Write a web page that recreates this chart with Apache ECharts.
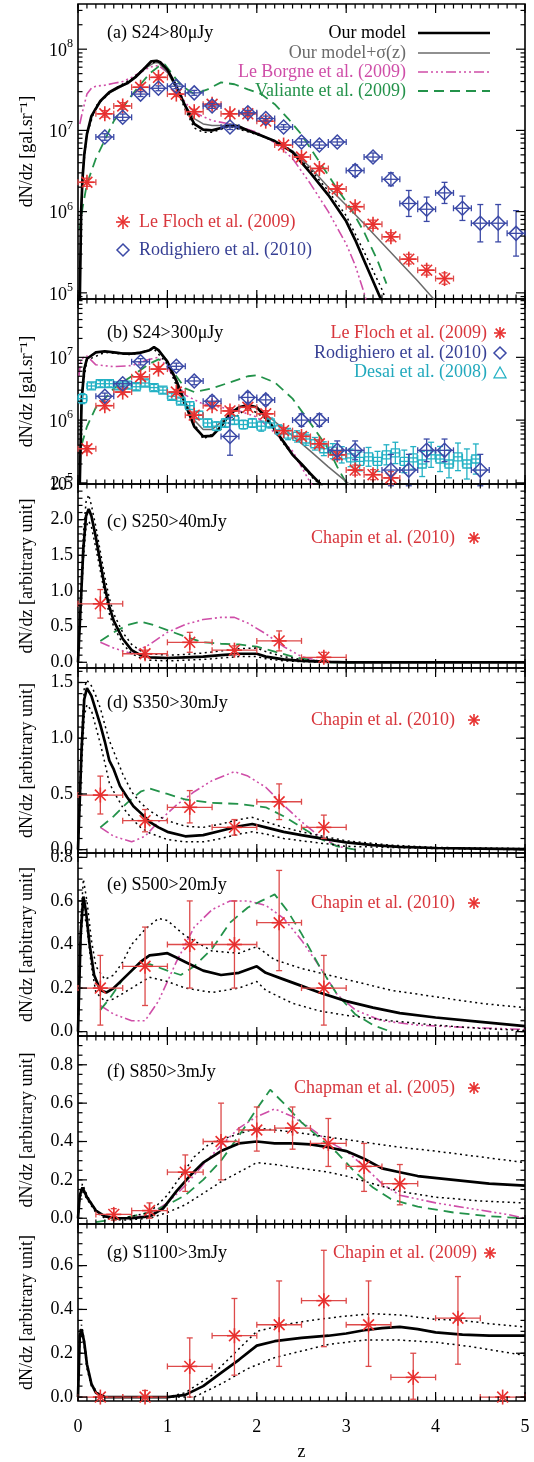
<!DOCTYPE html>
<html><head><meta charset="utf-8">
<script src="https://cdn.jsdelivr.net/npm/echarts@6/dist/echarts.min.js"></script>
<style>html,body{margin:0;padding:0;background:#fff}#c{width:534px;height:1462px}</style>
</head><body><div id="c"></div>
<script>
// ---------------- DATA ----------------
const Z_LABELS = [0,1,2,3,4,5];
// (a) S24>80uJy
const a_model_z = [0.02,0.035,0.05,0.07,0.1,0.15,0.25,0.35,0.45,0.55,0.65,0.75,0.82,0.88,0.92,1.0,1.1,1.2,1.3,1.4,1.5,1.6,1.7,1.8,1.9,2.0,2.2,2.4,2.6,2.8,3.0,3.1,3.2,3.3,3.4];
const a_model = [8e4,1.0e6,2.5e6,5.0e6,9.0e6,1.5e7,2.3e7,2.95e7,3.4e7,3.8e7,4.6e7,5.9e7,7.1e7,7.2e7,6.9e7,5.6e7,3.5e7,2.0e7,1.2e7,1.02e7,1.0e7,1.07e7,1.17e7,1.12e7,1.0e7,9.1e6,7.4e6,5.4e6,3.0e6,1.6e6,7.6e5,4.5e5,2.5e5,1.4e5,7.8e4];
const a_sig_z = [0.02,0.04,0.07,0.1,0.15,0.25,0.35,0.45,0.55,0.65,0.75,0.85,0.9,1.0,1.1,1.2,1.3,1.4,1.5,1.7,2.0,2.2,2.4,2.6,2.8,3.0,3.2,3.4,3.6,3.8,4.0];
const a_sig = [1e5,1.4e6,5.2e6,8.9e6,1.48e7,2.3e7,2.9e7,3.3e7,3.8e7,4.6e7,5.8e7,6.8e7,6.8e7,5.2e7,3.3e7,2.0e7,1.4e7,1.2e7,1.15e7,1.15e7,9.1e6,7.4e6,5.6e6,3.5e6,2.0e6,1.2e6,7.1e5,4.1e5,2.4e5,1.4e5,7.9e4];
const a_dot_z = [0.05,0.1,0.2,0.4,0.6,0.8,0.9,1.0,1.1,1.2,1.3,1.4,1.5,1.7,2.0,2.3,2.6,2.8,3.0,3.2,3.4,3.45];
const a_dot = [2.8e6,8.9e6,2.0e7,3.2e7,4.3e7,6.6e7,7.1e7,5.5e7,3.3e7,1.8e7,1.07e7,9.5e6,9.5e6,1.12e7,8.9e6,6.8e6,3.3e6,1.8e6,8.9e5,3.2e5,1.1e5,7.9e4];
const a_lb_z = [0.02,0.05,0.1,0.15,0.2,0.3,0.4,0.5,0.6,0.7,0.8,0.9,1.0,1.1,1.2,1.3,1.5,1.7,2.0,2.2,2.4,2.6,2.8,3.0,3.1,3.2,3.25];
const a_lb = [1.2e7,1.7e7,2.8e7,3.3e7,3.5e7,3.6e7,3.8e7,4.0e7,4.5e7,5.2e7,6.0e7,6.3e7,5.2e7,3.5e7,2.2e7,1.66e7,1.32e7,1.2e7,9.5e6,7.1e6,4.5e6,2.2e6,1.0e6,4.0e5,2.2e5,1.0e5,6.3e4];
const a_val_z = [0.02,0.05,0.1,0.2,0.3,0.4,0.5,0.6,0.7,0.8,0.9,0.97,1.05,1.15,1.3,1.45,1.6,1.75,1.9,2.05,2.2,2.35,2.5,2.6,2.75,2.9,3.05,3.2,3.35,3.45];
const a_val = [6e5,1.1e6,2.2e6,4.5e6,7.6e6,1.3e7,1.9e7,2.7e7,3.7e7,5.0e7,6.1e7,6.5e7,5.0e7,3.6e7,2.8e7,3.2e7,3.9e7,3.7e7,3.2e7,2.8e7,2.1e7,1.4e7,8.9e6,6.0e6,3.4e6,1.9e6,1.1e6,5.6e5,2.5e5,1.3e5];
const a_lf_z = [0.1,0.3,0.5,0.7,0.9,1.1,1.3,1.5,1.7,1.9,2.1,2.3,2.5,2.7,2.9,3.1,3.3,3.5,3.7,3.9,4.1];
const a_lf = [2.3e6,1.6e7,2.0e7,3.4e7,4.5e7,2.8e7,1.7e7,2.1e7,1.6e7,1.6e7,1.3e7,6.6e6,4.7e6,3.4e6,1.9e6,1.15e6,7.0e5,4.9e5,2.6e5,1.9e5,1.5e5];
const a_lf_err = [0.05,0.04,0.04,0.03,0.03,0.03,0.03,0.03,0.03,0.03,0.03,0.03,0.03,0.03,0.04,0.04,0.05,0.05,0.06,0.06,0.07];
const a_ro_z = [0.3,0.5,0.7,0.9,1.1,1.3,1.5,1.7,1.9,2.1,2.3,2.5,2.7,2.9,3.1,3.3,3.5,3.7,3.9,4.1,4.3,4.5,4.7,4.9];
const a_ro = [8.3e6,1.45e7,2.8e7,3.3e7,3.5e7,2.9e7,2.0e7,1.1e7,1.65e7,1.4e7,1.1e7,7.2e6,6.6e6,7.2e6,3.2e6,4.7e6,2.5e6,1.26e6,1.07e6,1.7e6,1.1e6,7.2e5,7.2e5,5.4e5];
const a_ro_err = [0.04,0.04,0.03,0.03,0.03,0.03,0.03,0.03,0.03,0.03,0.03,0.04,0.04,0.04,0.07,0.05,0.08,0.16,0.15,0.13,0.15,0.23,0.23,0.28];
// (b) S24>300uJy
const b_model_z = [0.02,0.04,0.07,0.1,0.2,0.3,0.4,0.5,0.6,0.7,0.8,0.85,0.9,1.0,1.1,1.2,1.3,1.4,1.5,1.6,1.7,1.8,1.9,2.0,2.1,2.2,2.3,2.4,2.5,2.6,2.7,2.75];
const b_model = [1e5,2.0e6,6.5e6,9.5e6,1.2e7,1.25e7,1.2e7,1.15e7,1.15e7,1.18e7,1.3e7,1.45e7,1.3e7,8.5e6,4.2e6,1.8e6,7.9e5,5.5e5,5.6e5,7.9e5,1.26e6,1.6e6,1.74e6,1.6e6,1.12e6,7.1e5,4.5e5,2.8e5,2.0e5,1.4e5,1.0e5,8e4];
const b_sig_z = [0.02,0.04,0.07,0.1,0.2,0.4,0.6,0.8,0.85,0.9,1.0,1.1,1.2,1.3,1.4,1.5,1.6,1.8,1.9,2.0,2.2,2.4,2.6,2.8,3.0,3.1];
const b_sig = [1e5,2.0e6,6.5e6,9.5e6,1.2e7,1.2e7,1.15e7,1.3e7,1.42e7,1.3e7,8.9e6,4.5e6,2.0e6,1.0e6,7.1e5,7.1e5,9.3e5,1.58e6,1.7e6,1.58e6,9.5e5,5.6e5,3.2e5,1.8e5,1.05e5,7.9e4];
const b_dot_z = [0.05,0.1,0.3,0.6,0.85,1.0,1.2,1.4,1.6,1.9,2.1,2.3,2.5,2.65,2.8];
const b_dot = [3.2e6,9.0e6,1.2e7,1.1e7,1.35e7,7.9e6,1.6e6,5.0e5,7.1e5,1.6e6,1.05e6,4.2e5,1.9e5,1.1e5,7.9e4];
const b_lb_z = [0.01,0.03,0.06,0.1,0.2,0.4,0.6,0.8,0.9,1.0,1.1,1.2,1.4,1.6,1.8,2.0,2.2,2.4,2.5,2.6,2.65];
const b_lb = [5e6,8.5e6,1.0e7,1.05e7,7.6e6,7.1e6,7.4e6,9.3e6,1.0e7,7.1e6,4.0e6,2.5e6,1.8e6,1.6e6,1.4e6,1.12e6,6.3e5,3.2e5,1.8e5,1.0e5,8e4];
const b_val_z = [0.04,0.1,0.2,0.3,0.4,0.5,0.6,0.7,0.8,0.9,1.0,1.1,1.2,1.3,1.5,1.7,1.9,2.0,2.2,2.4,2.6,2.8,2.9,3.0];
const b_val = [4.0e5,7.9e5,1.6e6,2.2e6,3.2e6,4.0e6,5.0e6,6.3e6,7.9e6,9.3e6,7.9e6,5.0e6,3.2e6,2.8e6,3.2e6,4.0e6,5.0e6,5.2e6,4.0e6,2.2e6,8.9e5,3.5e5,1.8e5,1.0e5];
const b_lf_z = [0.1,0.3,0.5,0.7,0.9,1.1,1.3,1.5,1.7,1.9,2.1,2.3,2.5,2.7,2.9,3.1,3.3,3.5];
const b_lf = [3.5e5,1.7e6,2.8e6,4.9e6,6.5e6,2.8e6,1.2e6,1.7e6,1.4e6,1.6e6,1.26e6,6.8e5,5.5e5,4.2e5,2.8e5,1.6e5,1.35e5,1.2e5];
const b_lf_err = [0.05,0.05,0.04,0.04,0.04,0.04,0.05,0.05,0.05,0.05,0.05,0.05,0.05,0.06,0.06,0.08,0.08,0.1];
const b_ro_z = [0.3,0.5,0.7,1.1,1.3,1.5,1.7,1.9,2.1,2.5,2.7,2.9,3.1,3.5,3.7,3.9,4.1,4.5];
const b_ro = [2.4e6,3.8e6,8.5e6,7.2e6,4.2e6,2.0e6,5.5e5,2.3e6,2.1e6,1.0e6,1.0e6,3.3e5,3.3e5,1.6e5,1.6e5,3.3e5,3.3e5,1.6e5];
const b_ro_err = [0.05,0.05,0.05,0.05,0.06,0.08,0.3,0.08,0.08,0.1,0.1,0.15,0.15,0.25,0.25,0.18,0.18,0.25];
const b_de_z = [0.05,0.15,0.25,0.35,0.45,0.55,0.65,0.75,0.85,0.95,1.05,1.15,1.25,1.35,1.45,1.55,1.65,1.75,1.85,1.95,2.05,2.15,2.25,2.35,2.45,2.55,2.65,2.75,2.85,2.95,3.05,3.15,3.25,3.35,3.45,3.55,3.65,3.75,3.85,3.95,4.05,4.15,4.25,4.35,4.45];
const b_de = [2.2e6,3.5e6,3.8e6,3.8e6,3.5e6,3.6e6,3.4e6,3.9e6,3.3e6,3.0e6,2.4e6,2.0e6,1.7e6,1.2e6,9e5,8e5,9e5,1.0e6,8.5e5,9e5,8e5,9e5,7e5,6e5,5.5e5,5e5,4.2e5,3.5e5,3.2e5,2.8e5,2.5e5,2.2e5,2.6e5,2.2e5,2.8e5,3.0e5,2.2e5,2.5e5,2.0e5,2.8e5,2.4e5,2.0e5,2.6e5,2.0e5,2.4e5];
const b_de_err = [0.08,0.05,0.05,0.05,0.05,0.05,0.05,0.05,0.05,0.05,0.05,0.05,0.06,0.06,0.06,0.07,0.07,0.07,0.07,0.07,0.08,0.08,0.08,0.09,0.09,0.1,0.1,0.11,0.12,0.13,0.14,0.15,0.15,0.16,0.16,0.17,0.18,0.18,0.2,0.2,0.2,0.22,0.22,0.24,0.24];
// (c) S250>40mJy
const c_model_z = [0,0.03,0.06,0.09,0.12,0.15,0.2,0.25,0.3,0.35,0.4,0.5,0.6,0.7,0.8,1.0,1.2,1.4,1.6,1.8,2.0,2.1,2.3,2.5,2.8,3.0,5.0];
const c_model = [0,0.8,1.6,2.05,2.15,2.05,1.75,1.4,1.05,0.78,0.58,0.33,0.17,0.1,0.07,0.06,0.07,0.08,0.1,0.12,0.12,0.08,0.04,0.02,0.005,0,0];
const c_up_z = [0,0.03,0.06,0.09,0.12,0.15,0.2,0.25,0.3,0.35,0.4,0.5,0.6,0.7,0.8,1.0,1.2,1.4,1.6,1.8,2.0,2.1,2.3,2.5,2.8,3.0,3.5];
const c_up = [0,0.9,1.8,2.25,2.35,2.2,1.9,1.55,1.2,0.9,0.68,0.42,0.25,0.16,0.12,0.1,0.11,0.13,0.16,0.19,0.2,0.15,0.08,0.04,0.01,0,0];
const c_lo_z = [0,0.03,0.06,0.09,0.12,0.15,0.2,0.25,0.3,0.35,0.4,0.5,0.6,0.7,0.8,1.0,1.2,1.4,1.6,1.8,2.0,2.1,2.3,2.5,2.8,3.0];
const c_lo = [0,0.7,1.45,1.9,1.98,1.9,1.6,1.28,0.95,0.68,0.5,0.26,0.12,0.06,0.03,0.02,0.03,0.04,0.06,0.08,0.08,0.05,0.02,0.01,0,0];
const c_lb_z = [0.25,0.4,0.6,0.8,1.0,1.2,1.4,1.6,1.75,1.9,2.1,2.3,2.5,2.7,2.9,3.2];
const c_lb = [0.28,0.2,0.12,0.25,0.42,0.53,0.6,0.63,0.63,0.55,0.4,0.22,0.08,0.02,0,0];
const c_val_z = [0.25,0.4,0.55,0.7,0.85,1.0,1.2,1.4,1.6,1.8,2.0,2.2,2.4,2.6,2.8,3.2];
const c_val = [0.3,0.42,0.52,0.57,0.52,0.45,0.36,0.28,0.26,0.25,0.22,0.15,0.08,0.03,0,0];
const c_ch_z = [0.25,0.75,1.25,1.75,2.25,2.75];
const c_ch = [0.82,0.12,0.28,0.17,0.3,0.07];
const c_ch_lo = [0.62,0.07,0.14,0.11,0.16,0.0];
const c_ch_hi = [1.02,0.17,0.42,0.23,0.44,0.14];
// (d) S350>30mJy
const d_model_z = [0,0.04,0.07,0.1,0.15,0.2,0.25,0.3,0.35,0.4,0.47,0.55,0.62,0.7,0.8,0.9,1.0,1.2,1.4,1.6,1.8,1.95,2.1,2.3,2.5,2.8,3.0,3.3,3.6,4.0,4.5,5.0];
const d_model = [0,0.9,1.35,1.45,1.38,1.25,1.12,0.97,0.8,0.72,0.57,0.47,0.39,0.33,0.25,0.2,0.16,0.12,0.13,0.17,0.21,0.23,0.2,0.16,0.13,0.09,0.065,0.04,0.025,0.015,0.01,0.005];
const d_up_z = [0,0.04,0.07,0.1,0.15,0.2,0.25,0.3,0.35,0.4,0.5,0.6,0.7,0.8,0.9,1.0,1.2,1.4,1.6,1.8,1.95,2.1,2.3,2.5,2.8,3.0,3.5,4.0,5.0];
const d_up = [0,1.0,1.45,1.52,1.47,1.38,1.27,1.12,0.98,0.88,0.68,0.52,0.42,0.35,0.3,0.26,0.21,0.2,0.23,0.27,0.29,0.25,0.2,0.16,0.11,0.08,0.04,0.02,0.01];
const d_lo_z = [0,0.04,0.07,0.1,0.15,0.2,0.25,0.3,0.35,0.4,0.5,0.6,0.7,0.8,1.0,1.2,1.4,1.6,1.8,1.95,2.1,2.3,2.5,2.8,3.0,3.5,4.0,5.0];
const d_lo = [0,0.75,1.2,1.3,1.25,1.1,0.95,0.78,0.6,0.52,0.38,0.28,0.2,0.15,0.09,0.07,0.07,0.1,0.14,0.16,0.14,0.1,0.08,0.05,0.03,0.02,0.01,0];
const d_lb_z = [0.25,0.4,0.6,0.75,0.9,1.1,1.3,1.5,1.75,1.9,2.1,2.3,2.5,2.7,2.9,3.1];
const d_lb = [0.2,0.12,0.07,0.12,0.25,0.4,0.52,0.62,0.7,0.66,0.56,0.4,0.25,0.12,0.03,0];
const d_val_z = [0.25,0.4,0.55,0.7,0.8,1.0,1.2,1.5,1.8,2.1,2.3,2.5,2.7,2.9,3.1];
const d_val = [0.2,0.3,0.42,0.52,0.55,0.5,0.45,0.42,0.41,0.38,0.3,0.2,0.1,0.03,0];
const d_ch_z = [0.25,0.75,1.25,1.75,2.25,2.75];
const d_ch = [0.49,0.26,0.38,0.2,0.43,0.2];
const d_ch_lo = [0.32,0.16,0.24,0.13,0.27,0.1];
const d_ch_hi = [0.66,0.36,0.53,0.27,0.59,0.31];
// (e) S500>20mJy
const e_model_z = [0,0.03,0.06,0.09,0.13,0.18,0.25,0.32,0.4,0.5,0.6,0.7,0.8,0.9,1.0,1.1,1.2,1.4,1.6,1.8,2.0,2.1,2.3,2.5,2.7,3.0,3.3,3.6,4.0,4.5,5.0];
const e_model = [0,0.45,0.62,0.55,0.4,0.26,0.19,0.18,0.2,0.24,0.28,0.32,0.35,0.355,0.36,0.34,0.32,0.28,0.26,0.27,0.3,0.27,0.24,0.21,0.18,0.14,0.11,0.085,0.065,0.045,0.025];
const e_up_z = [0,0.03,0.06,0.1,0.15,0.2,0.3,0.4,0.5,0.6,0.75,0.9,1.0,1.2,1.5,1.8,2.0,2.2,2.5,3.0,3.5,4.0,4.5,5.0];
const e_up = [0,0.5,0.7,0.6,0.42,0.3,0.24,0.26,0.32,0.4,0.47,0.52,0.51,0.44,0.37,0.36,0.39,0.33,0.29,0.24,0.19,0.16,0.13,0.11];
const e_lo_z = [0,0.03,0.06,0.1,0.15,0.2,0.3,0.4,0.6,0.8,1.0,1.2,1.5,1.8,2.0,2.1,2.4,2.7,3.0,3.5,4.0,4.5,5.0];
const e_lo = [0,0.42,0.56,0.48,0.3,0.18,0.14,0.15,0.2,0.25,0.23,0.2,0.18,0.2,0.23,0.19,0.13,0.095,0.075,0.05,0.03,0.015,0.005];
const e_lb_z = [0.25,0.4,0.6,0.75,0.9,1.1,1.3,1.5,1.7,1.9,2.1,2.3,2.5,2.7,2.9,3.1,3.4,3.8,4.3,5.0];
const e_lb = [0.12,0.08,0.05,0.05,0.14,0.32,0.48,0.56,0.6,0.6,0.58,0.52,0.42,0.3,0.17,0.1,0.05,0.03,0.02,0.01];
const e_val_z = [0.25,0.35,0.5,0.65,0.8,1.0,1.15,1.3,1.5,1.7,1.9,2.05,2.2,2.35,2.5,2.7,2.9,3.1,3.3,3.5];
const e_val = [0.1,0.15,0.24,0.3,0.31,0.28,0.26,0.3,0.38,0.5,0.57,0.6,0.63,0.55,0.45,0.3,0.17,0.08,0.03,0];
const e_ch_z = [0.25,0.75,1.25,1.75,2.25,2.75];
const e_ch = [0.2,0.3,0.4,0.4,0.5,0.2];
const e_ch_lo = [0.03,0.12,0.2,0.2,0.28,0.03];
const e_ch_hi = [0.35,0.48,0.6,0.6,0.74,0.35];
// (f) S850>3mJy
const f_model_z = [0,0.02,0.05,0.1,0.2,0.3,0.45,0.6,0.8,0.95,1.1,1.25,1.4,1.6,1.8,2.0,2.2,2.4,2.6,2.8,3.0,3.2,3.4,3.6,3.8,4.2,4.6,5.0];
const f_model = [0,0.12,0.16,0.11,0.04,0.01,0,0,0.01,0.05,0.14,0.22,0.29,0.35,0.39,0.4,0.39,0.39,0.385,0.37,0.35,0.31,0.26,0.24,0.22,0.2,0.18,0.17];
const f_up_z = [0,0.02,0.05,0.1,0.2,0.3,0.5,0.8,1.0,1.15,1.3,1.45,1.6,1.8,2.0,2.2,2.4,2.7,3.0,3.3,3.6,4.0,4.5,5.0];
const f_up = [0,0.13,0.18,0.12,0.04,0.01,0,0.03,0.12,0.22,0.32,0.38,0.41,0.44,0.47,0.46,0.45,0.43,0.41,0.39,0.37,0.35,0.32,0.29];
const f_lo_z = [0,0.02,0.05,0.1,0.2,0.3,0.5,0.8,1.0,1.2,1.4,1.6,1.8,2.0,2.2,2.5,2.8,3.0,3.3,3.6,4.0,4.5,5.0];
const f_lo = [0,0.1,0.14,0.1,0.03,0,-0.01,0,0.03,0.07,0.13,0.19,0.24,0.29,0.28,0.26,0.24,0.22,0.18,0.14,0.11,0.09,0.08];
const f_lb_z = [0.6,0.8,1.0,1.2,1.4,1.6,1.8,2.0,2.2,2.4,2.6,2.8,3.0,3.2,3.4,3.6,3.8,4.0,4.4,4.8,5.0];
const f_lb = [0,0.02,0.08,0.17,0.28,0.38,0.47,0.53,0.57,0.53,0.47,0.4,0.35,0.27,0.18,0.12,0.1,0.08,0.05,0.02,0];
const f_val_z = [0.2,0.5,0.8,1.0,1.2,1.4,1.6,1.8,2.0,2.15,2.3,2.5,2.7,2.9,3.1,3.3,3.5,3.8,4.2,4.6,5.0];
const f_val = [-0.02,0,0.03,0.07,0.12,0.2,0.3,0.43,0.57,0.67,0.6,0.5,0.42,0.34,0.24,0.16,0.1,0.06,0.03,0.01,0];
const f_cm_z = [0.4,0.8,1.2,1.6,2.0,2.4,2.8,3.2,3.6];
const f_cm = [0.02,0.04,0.24,0.4,0.46,0.47,0.39,0.27,0.18];
const f_cm_lo = [-0.01,0.0,0.14,0.2,0.35,0.36,0.27,0.14,0.07];
const f_cm_hi = [0.05,0.08,0.33,0.6,0.58,0.58,0.52,0.39,0.28];
// (g) S1100>3mJy
const g_model_z = [0,0.02,0.04,0.07,0.1,0.15,0.2,0.3,1.0,1.2,1.4,1.6,1.8,2.0,2.2,2.5,2.8,3.0,3.2,3.4,3.6,3.8,4.0,4.3,4.6,5.0];
const g_model = [0,0.28,0.31,0.25,0.15,0.06,0.02,0,0,0.01,0.05,0.11,0.17,0.235,0.255,0.27,0.28,0.29,0.305,0.315,0.32,0.31,0.295,0.285,0.28,0.28];
const g_up_z = [0,0.02,0.04,0.07,0.1,0.15,0.25,1.0,1.2,1.5,1.8,2.0,2.3,2.6,3.0,3.3,3.6,4.0,4.3,4.6,5.0];
const g_up = [0,0.3,0.33,0.26,0.16,0.06,0,0,0.02,0.1,0.22,0.3,0.33,0.35,0.37,0.38,0.375,0.355,0.35,0.335,0.32];
const g_lo_z = [0,0.02,0.04,0.07,0.1,0.15,0.25,1.3,1.6,1.9,2.2,2.5,2.8,3.2,3.6,4.0,4.4,4.7,5.0];
const g_lo = [0,0.26,0.29,0.23,0.13,0.05,0,0,0.06,0.13,0.18,0.21,0.24,0.26,0.26,0.25,0.23,0.21,0.19];
const g_ch_z = [0.25,0.75,1.25,1.75,2.25,2.75,3.25,3.75,4.25,4.75];
const g_ch = [0,0,0.14,0.28,0.33,0.44,0.33,0.09,0.36,0];
const g_ch_lo = [0,0,0,0.1,0.14,0.23,0.14,-0.01,0.15,0];
const g_ch_hi = [0,0.03,0.27,0.45,0.53,0.67,0.53,0.2,0.55,0];
// tick labels
const Y_LABELS = [[1e5,1e6,1e7,1e8],[1e5,1e6,1e7],[0,0.5,1,1.5,2,2.5],[0,0.5,1,1.5],[0,0.2,0.4,0.6,0.8],[0,0.2,0.4,0.6,0.8],[0,0.2,0.4,0.6]];
const PANEL_TITLES = ['(a) S24>80\u03bcJy','(b) S24>300\u03bcJy','(c) S250>40mJy','(d) S350>30mJy','(e) S500>20mJy','(f) S850>3mJy','(g) S1100>3mJy'];

// ---------------- LAYOUT / STYLE ----------------
const FONT = '"Liberation Serif","Times New Roman",serif';
const RED='#e8302f', RED_BAR='#dd4a4a', RED_TXT='#d8363c', BLUE='#3b49a6', BLUE_TXT='#363f94', CYAN='#23b1c4', CYAN_TXT='#22a9bd';
const MAG='#cf4ea8', GREEN='#23924a', GRAY='#6b6b6b';
const GRID_TOP=[4,299,484,668,853,1036,1224], GRID_H=[295,185,184,185,183,188,179];
const Y_MIN=[8.4e4,9.6e4,-0.08,-0.03,-0.02,-0.03,-0.018], Y_MAX=[3.6e8,8.5e7,2.5,1.63,0.82,0.95,0.79];
const IS_LOG=[true,true,false,false,false,false,false];
const Y_NAME=['dN/dz [gal.sr\u207b\u00b9]','dN/dz [gal.sr\u207b\u00b9]','dN/dz [arbitrary unit]','dN/dz [arbitrary unit]','dN/dz [arbitrary unit]','dN/dz [arbitrary unit]','dN/dz [arbitrary unit]'];
const LEFT=78, RIGHT=9;

function steps(a,b,s){const r=[];for(let v=a;v<=b+1e-9;v+=s)r.push(+v.toFixed(4));return r;}
const X_MAJOR=[0,1,2,3,4,5], X_MINOR=steps(0,5,0.1);
function logMinor(lo,hi){const r=[];for(let n=4;n<=8;n++)for(let k=2;k<=9;k++){const v=k*Math.pow(10,n);if(v>lo&&v<hi)r.push(v);}return r;}
const Y_MINOR=[logMinor(Y_MIN[0],Y_MAX[0]),logMinor(Y_MIN[1],Y_MAX[1]),steps(0,2.5,0.1),steps(0,1.6,0.1),steps(0,0.8,0.05),steps(0,0.95,0.05),steps(0,0.75,0.05)];
const Y_REF=[1e6,1e6,0,0,0,0,0];

function lineS(gi,zs,ys,color,width,type){
  return {type:'line',xAxisIndex:gi,yAxisIndex:gi,data:zs.map((z,i)=>[z,ys[i]]),showSymbol:false,symbol:'none',
    silent:true,clip:true,z:3,lineStyle:{color:color,width:width,type:type||'solid'},animation:false};
}
function symShapes(sym,x,y,r,color){
  const st={stroke:color,lineWidth:1.6,fill:null};
  if(sym==='ast'){const d=r*0.72;return [
    {type:'line',shape:{x1:x-r,y1:y,x2:x+r,y2:y},style:st},
    {type:'line',shape:{x1:x,y1:y-r,x2:x,y2:y+r},style:st},
    {type:'line',shape:{x1:x-d,y1:y-d,x2:x+d,y2:y+d},style:st},
    {type:'line',shape:{x1:x-d,y1:y+d,x2:x+d,y2:y-d},style:st}];}
  if(sym==='dia'){return [{type:'polygon',shape:{points:[[x,y-r],[x+r,y],[x,y+r],[x-r,y]]},style:{stroke:color,lineWidth:1.5,fill:'rgba(0,0,0,0)'}}];}
  if(sym==='sq'){return [{type:'rect',shape:{x:x-r,y:y-r,width:2*r,height:2*r},style:{stroke:color,lineWidth:1.3,fill:'rgba(0,0,0,0)'}}];}
  if(sym==='tri'){return [{type:'polygon',shape:{points:[[x,y-r],[x+r,y+r*0.8],[x-r,y+r*0.8]]},style:{stroke:color,lineWidth:1.3,fill:'rgba(0,0,0,0)'}}];}
  return [];
}
function errS(gi,rows,sym,r,color,barColor,zz){
  return {type:'custom',xAxisIndex:gi,yAxisIndex:gi,silent:true,clip:false,z:zz||5,data:rows,animation:false,
    renderItem:function(params,api){
      const c=api.coord([api.value(0),api.value(1)]);
      const xl=api.coord([api.value(2),api.value(1)])[0], xh=api.coord([api.value(3),api.value(1)])[0];
      const yl=api.coord([api.value(0),api.value(4)])[1], yh=api.coord([api.value(0),api.value(5)])[1];
      const st={stroke:barColor,lineWidth:1.3};
      const ch=[
        {type:'line',shape:{x1:xl,y1:c[1],x2:xh,y2:c[1]},style:st},
        {type:'line',shape:{x1:xl,y1:c[1]-3,x2:xl,y2:c[1]+3},style:st},
        {type:'line',shape:{x1:xh,y1:c[1]-3,x2:xh,y2:c[1]+3},style:st}];
      if(Math.abs(yl-yh)>1){
        ch.push({type:'line',shape:{x1:c[0],y1:yl,x2:c[0],y2:yh},style:st});
        ch.push({type:'line',shape:{x1:c[0]-3,y1:yl,x2:c[0]+3,y2:yl},style:st});
        ch.push({type:'line',shape:{x1:c[0]-3,y1:yh,x2:c[0]+3,y2:yh},style:st});
      }
      return {type:'group',children:ch.concat(symShapes(sym,c[0],c[1],r,color))};
    }};
}
function rowsLin(zs,ys,lo,hi,dz){return zs.map((z,i)=>[z,ys[i],z-dz,z+dz,lo[i],hi[i]]);}
function rowsLog(zs,ys,e,dz){return zs.map((z,i)=>[z,ys[i],z-dz,z+dz,ys[i]/Math.pow(10,e[i]),ys[i]*Math.pow(10,e[i])]);}
function tickS(gi){
  return {type:'custom',xAxisIndex:gi,yAxisIndex:gi,silent:true,clip:false,z:10,data:[[2.5,Y_REF[gi]]],animation:false,
    renderItem:function(params,api){
      const cs=params.coordSys, ch=[];
      const top=cs.y,bot=cs.y+cs.height,lf=cs.x,rt=cs.x+cs.width;
      const st={stroke:'#000',lineWidth:1.2};
      const add=(a,b,c,d)=>ch.push({type:'line',shape:{x1:a,y1:b,x2:c,y2:d},style:st});
      X_MAJOR.forEach(v=>{const x=api.coord([v,Y_REF[gi]])[0];add(x,bot,x,bot-9);add(x,top,x,top+9);});
      X_MINOR.forEach(v=>{const x=api.coord([v,Y_REF[gi]])[0];add(x,bot,x,bot-4.5);add(x,top,x,top+4.5);});
      Y_LABELS[gi].forEach(v=>{const y=api.coord([0,v])[1];if(y<top-0.5||y>bot+0.5)return;add(lf,y,lf+9,y);add(rt,y,rt-9,y);});
      Y_MINOR[gi].forEach(v=>{const y=api.coord([0,v])[1];if(y<top-0.5||y>bot+0.5)return;add(lf,y,lf+4.5,y);add(rt,y,rt-4.5,y);});
      return {type:'group',children:ch};
    }};
}

// ---------------- SERIES ----------------
const DOT=[2,3.5], DASH=[10,6], DDD=[10,3,2,3,2,3,2,3];
const series=[];
// (a)
series.push(lineS(0,a_lb_z,a_lb,MAG,1.6,DDD), lineS(0,a_val_z,a_val,GREEN,1.8,DASH), lineS(0,a_sig_z,a_sig,GRAY,1.5),
  lineS(0,a_dot_z,a_dot,'#000',1.5,DOT), lineS(0,a_model_z,a_model,'#000',2.7));
series.push(errS(0,rowsLog(a_lf_z,a_lf,a_lf_err,0.1),'ast',7.5,RED,RED_BAR), errS(0,rowsLog(a_ro_z,a_ro,a_ro_err,0.1),'dia',7,BLUE,BLUE,6));
// (b)
series.push(errS(1,rowsLog(b_de_z,b_de,b_de_err,0.05),'sq',4,CYAN,CYAN,4));
series.push(lineS(1,b_lb_z,b_lb,MAG,1.6,DDD), lineS(1,b_val_z,b_val,GREEN,1.8,DASH), lineS(1,b_sig_z,b_sig,GRAY,1.5),
  lineS(1,b_dot_z,b_dot,'#000',1.5,DOT), lineS(1,b_model_z,b_model,'#000',2.7));
series.push(errS(1,rowsLog(b_lf_z,b_lf,b_lf_err,0.1),'ast',7.5,RED,RED_BAR), errS(1,rowsLog(b_ro_z,b_ro,b_ro_err,0.1),'dia',7,BLUE,BLUE,6));
// (c)-(g)
const lin=[
  [c_lb_z,c_lb,c_val_z,c_val,c_up_z,c_up,c_lo_z,c_lo,c_model_z,c_model,rowsLin(c_ch_z,c_ch,c_ch_lo,c_ch_hi,0.25)],
  [d_lb_z,d_lb,d_val_z,d_val,d_up_z,d_up,d_lo_z,d_lo,d_model_z,d_model,rowsLin(d_ch_z,d_ch,d_ch_lo,d_ch_hi,0.25)],
  [e_lb_z,e_lb,e_val_z,e_val,e_up_z,e_up,e_lo_z,e_lo,e_model_z,e_model,rowsLin(e_ch_z,e_ch,e_ch_lo,e_ch_hi,0.25)],
  [f_lb_z,f_lb,f_val_z,f_val,f_up_z,f_up,f_lo_z,f_lo,f_model_z,f_model,rowsLin(f_cm_z,f_cm,f_cm_lo,f_cm_hi,0.2)],
  [null,null,null,null,g_up_z,g_up,g_lo_z,g_lo,g_model_z,g_model,rowsLin(g_ch_z,g_ch,g_ch_lo,g_ch_hi,0.25)]
];
lin.forEach((p,k)=>{const gi=k+2;
  if(p[0]) series.push(lineS(gi,p[0],p[1],MAG,1.6,DDD));
  if(p[2]) series.push(lineS(gi,p[2],p[3],GREEN,1.8,DASH));
  series.push(lineS(gi,p[4],p[5],'#000',1.5,DOT), lineS(gi,p[6],p[7],'#000',1.5,DOT), lineS(gi,p[8],p[9],'#000',2.7));
  series.push(errS(gi,p[10],'ast',7.5,RED,RED_BAR));
});
for(let gi=0;gi<7;gi++) series.push(tickS(gi));

// ---------------- AXES ----------------
const grids=[],xAxes=[],yAxes=[];
for(let gi=0;gi<7;gi++){
  grids.push({left:LEFT,right:RIGHT,top:GRID_TOP[gi],height:GRID_H[gi],show:true,borderColor:'#000',borderWidth:1.6,backgroundColor:'rgba(0,0,0,0)'});
  xAxes.push({type:'value',gridIndex:gi,min:0,max:5,interval:1,axisLine:{show:false},axisTick:{show:false},splitLine:{show:false},
    axisLabel:{show:gi===6,margin:17,fontSize:18,fontFamily:FONT,color:'#000'},
    name:gi===6?'z':'',nameLocation:'middle',nameGap:42,nameTextStyle:{fontSize:18,fontFamily:FONT,color:'#000'}});
  const lab={customValues:Y_LABELS[gi],margin:5,fontSize:18,fontFamily:FONT,color:'#000'};
  if(IS_LOG[gi]){
    lab.formatter=v=>'{b|10}{s|'+Math.round(Math.log10(v))+'}';
    lab.rich={b:{fontSize:18,fontFamily:FONT,color:'#000',lineHeight:22,verticalAlign:'bottom'},s:{fontSize:12,fontFamily:FONT,color:'#000',lineHeight:22,verticalAlign:'top'}};
  } else lab.formatter=v=>v.toFixed(1);
  yAxes.push({type:IS_LOG[gi]?'log':'value',gridIndex:gi,min:Y_MIN[gi],max:Y_MAX[gi],axisLine:{show:false},axisTick:{show:false},splitLine:{show:false},
    axisLabel:lab,name:Y_NAME[gi],nameLocation:'middle',nameRotate:90,nameGap:42,nameTextStyle:{fontSize:18,fontFamily:FONT,color:'#000'}});
}

// ---------------- ANNOTATIONS ----------------
const G=[];
function txt(x,y,s,color,align){G.push({type:'text',silent:true,z:20,style:{x:x,y:y,text:s,fill:color,font:'18px '+FONT,textAlign:align||'left',textVerticalAlign:'middle'}});}
function gline(x1,y1,x2,y2,color,w,dash){G.push({type:'line',silent:true,z:20,shape:{x1,y1,x2,y2},style:{stroke:color,lineWidth:w,lineDash:dash||null}});}
function gsym(sym,x,y,r,color){symShapes(sym,x,y,r,color).forEach(e=>{e.silent=true;e.z=20;G.push(e);});}
const TITLE_Y=[33,333,522,703,885,1072,1253];
PANEL_TITLES.forEach((t,i)=>txt(107,TITLE_Y[i],t,'#000'));
// (a) legend
txt(406,33,'Our model','#000','right'); gline(418,33,490,33,'#000',2.7);
txt(406,53,'Our model+\u03c3(z)',GRAY,'right'); gline(418,53,490,53,GRAY,1.5);
txt(406,72,'Le Borgne et al. (2009)',MAG,'right'); gline(418,72,490,72,MAG,1.6,DDD);
txt(406,91,'Valiante et al. (2009)',GREEN,'right'); gline(418,91,490,91,GREEN,1.8,DASH);
gsym('ast',123,222,7,RED); txt(139,222,'Le Floch et al. (2009)',RED_TXT);
gsym('dia',123,250,6,BLUE); txt(139,250,'Rodighiero et al. (2010)',BLUE_TXT);
// (b) legend
txt(487,333,'Le Floch et al. (2009)',RED_TXT,'right'); gsym('ast',500,333,6,RED);
txt(487,353,'Rodighiero et al. (2010)',BLUE_TXT,'right'); gsym('dia',500,353,6,BLUE);
txt(487,372,'Desai et al. (2008)',CYAN_TXT,'right'); gsym('tri',500,373,6,CYAN);
// (c)-(g) legends
txt(455,538,'Chapin et al. (2010)',RED_TXT,'right'); gsym('ast',474,538,6,RED);
txt(455,720,'Chapin et al. (2010)',RED_TXT,'right'); gsym('ast',474,720,6,RED);
txt(455,903,'Chapin et al. (2010)',RED_TXT,'right'); gsym('ast',474,903,6,RED);
txt(455,1088,'Chapman et al. (2005)',RED_TXT,'right'); gsym('ast',474,1088,6,RED);
txt(477,1253,'Chapin et al. (2009)',RED_TXT,'right'); gsym('ast',490,1253,6,RED);

const chart=echarts.init(document.getElementById('c'),null,{renderer:'canvas'});
chart.setOption({animation:false,backgroundColor:'#fff',textStyle:{fontFamily:FONT},
  grid:grids,xAxis:xAxes,yAxis:yAxes,series:series,graphic:{elements:G}});
</script></body></html>
